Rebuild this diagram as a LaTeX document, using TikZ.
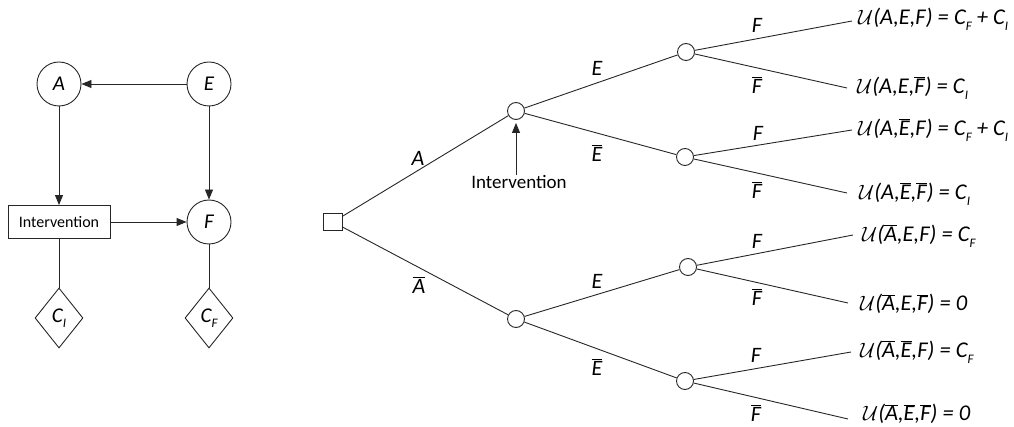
\documentclass[tikz,border=0pt]{standalone}
\usepackage{fontspec}
\setmainfont{Carlito}
\usetikzlibrary{arrows.meta,shapes.geometric}
\newcommand\olx[1]{\ensuremath{\overline{\mbox{#1}}}}
\newcommand\sbx[1]{\raisebox{-0.25em}{\fontsize{13}{13}\selectfont #1}}
\newcommand\Uc{\ensuremath{\mathcal{U}}}
\begin{document}
\begin{tikzpicture}[x=1pt,y=-1pt,
  line/.style={draw=black!85, line width=0.9pt},
  arr/.style={line, -{Triangle[length=10pt,width=8pt]}},
  lab/.style={inner sep=0pt, font=\fontsize{22}{26}\selectfont\itshape},
  var/.style={circle, line, minimum size=44pt, inner sep=0pt, font=\fontsize{21}{25}\selectfont\itshape},
  cost/.style={diamond, line, minimum width=48pt, minimum height=60pt, inner sep=0pt, font=\fontsize{21}{25}\selectfont\itshape},
  decbox/.style={rectangle, line, minimum width=102pt, minimum height=33pt, inner sep=0pt, font=\fontsize{16}{19}\selectfont},
  dec/.style={rectangle, line, minimum width=19pt, minimum height=17pt, inner sep=0pt},
  chance/.style={circle, line, minimum size=17pt, inner sep=0pt},
  util/.style={anchor=west, inner sep=0pt, font=\fontsize{22.5}{26}\selectfont\itshape}
]
\useasboundingbox (0,0) rectangle (1014,427);
% ---------- influence diagram ----------
\node[var] (A) at (59,84) {A};
\node[var] (E) at (209,84) {E};
\node[decbox] (I) at (59,222) {Intervention};
\node[var] (F) at (209,222) {F};
\node[cost] (CI) at (59,318) {C\sbx{I}};
\node[cost] (CF) at (209,318) {C\sbx{F}};
\draw[arr] (E) -- (A);
\draw[arr] (A) -- (I);
\draw[arr] (E) -- (F);
\draw[arr] (I) -- (F);
\draw[line] (I) -- (CI);
\draw[line] (F) -- (CF);
% ---------- decision tree ----------
\node[dec] (d) at (333,222) {};
\node[chance] (c1) at (516,111) {};
\node[chance] (c2) at (516,319) {};
\node[chance] (e1) at (686,52) {};
\node[chance] (e2) at (685,157) {};
\node[chance] (e3) at (688,267) {};
\node[chance] (e4) at (685,381) {};
\coordinate (l1) at (852,21);
\coordinate (l2) at (847,88);
\coordinate (l3) at (852,130);
\coordinate (l4) at (847,193);
\coordinate (l5) at (853,235);
\coordinate (l6) at (848,303);
\coordinate (l7) at (851,352);
\coordinate (l8) at (848,419);
\draw[line] (d) -- (c1);
\draw[line] (d) -- (c2);
\draw[line] (c1) -- (e1);
\draw[line] (c1) -- (e2);
\draw[line] (c2) -- (e3);
\draw[line] (c2) -- (e4);
\draw[line] (e1) -- (l1);
\draw[line] (e1) -- (l2);
\draw[line] (e2) -- (l3);
\draw[line] (e2) -- (l4);
\draw[line] (e3) -- (l5);
\draw[line] (e3) -- (l6);
\draw[line] (e4) -- (l7);
\draw[line] (e4) -- (l8);
% branch labels
\node[lab] (bA) at (418,158) {A};
\node[lab] (bAb) at (419,285) {\olx{A}};
\node[lab] (bE1) at (597,68) {E};
\node[lab] (bEb1) at (597,153) {\olx{E}};
\node[lab] (bE2) at (597,281) {E};
\node[lab] (bEb2) at (597,367) {\olx{E}};
\node[lab] (bF1) at (757,25) {F};
\node[lab] (bFb1) at (757,85) {\olx{F}};
\node[lab] (bF2) at (758,133) {F};
\node[lab] (bFb2) at (757,190) {\olx{F}};
\node[lab] (bF3) at (757,241) {F};
\node[lab] (bFb3) at (757,297) {\olx{F}};
\node[lab] (bF4) at (756,355) {F};
\node[lab] (bFb4) at (756,413) {\olx{F}};
% intervention annotation
\node[inner sep=0pt, font=\fontsize{19}{22}\selectfont] (ti) at (519,182) {Intervention};
\draw[arr, shorten >=3pt] (ti.north -| c1) -- (c1.south);
% utilities
\node[util] (u1) at (858,19) {\Uc(A,E,F) = C\sbx{F} + C\sbx{I}};
\node[util] (u2) at (857,88) {\Uc(A,E,\olx{F}) = C\sbx{I}};
\node[util] (u3) at (858,130) {\Uc(A,\olx{E},F) = C\sbx{F} + C\sbx{I}};
\node[util] (u4) at (859,194) {\Uc(A,\olx{E},\olx{F}) = C\sbx{I}};
\node[util] (u5) at (862,236) {\Uc(\olx{A},E,F) = C\sbx{F}};
\node[util] (u6) at (860,304) {\Uc(\olx{A},E,\olx{F}) = 0};
\node[util] (u7) at (860,352) {\Uc(\olx{A},\olx{E},F) = C\sbx{F}};
\node[util] (u8) at (863,414) {\Uc(\olx{A},\olx{E},\olx{F}) = 0};
\end{tikzpicture}
\end{document}
